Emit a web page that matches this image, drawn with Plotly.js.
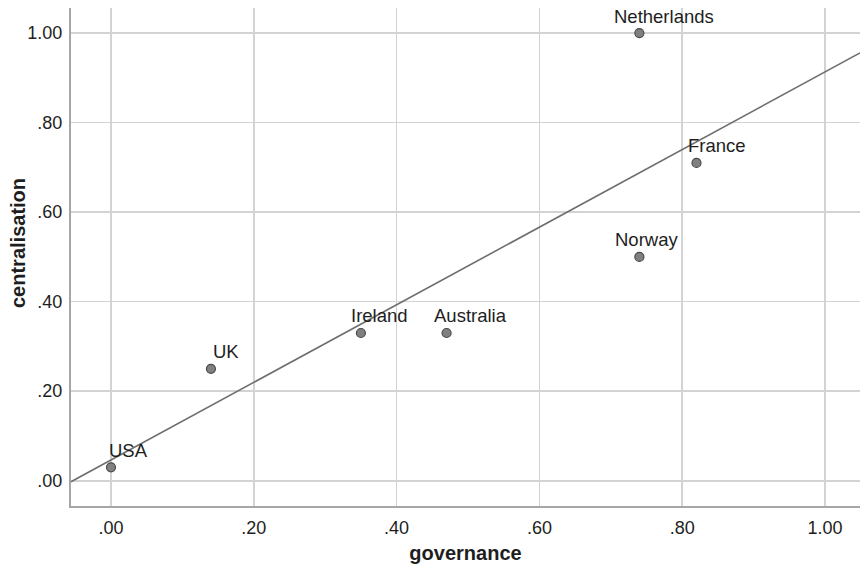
<!DOCTYPE html>
<html>
<head>
<meta charset="utf-8">
<script src="https://cdn.plot.ly/plotly-3.0.1.min.js"></script>
<style>html,body{margin:0;padding:0;background:#fff;}#chart{width:861px;height:564px;}</style>
</head>
<body>
<div id="chart"></div>
<script>
// Data
const countries = ["USA", "UK", "Ireland", "Australia", "Norway", "France", "Netherlands"];
const governance = [0.00, 0.14, 0.35, 0.47, 0.74, 0.82, 0.74];
const centralisation = [0.03, 0.25, 0.33, 0.33, 0.50, 0.71, 1.00];
const tickVals = [0, 0.2, 0.4, 0.6, 0.8, 1.0];
const tickText = [".00", ".20", ".40", ".60", ".80", "1.00"];

// Label horizontal offsets (style)
const labelShift = [18, 15, 19, 24, 7, 21, 25];

// Least-squares fit line
const n = governance.length;
const mx = governance.reduce((a, b) => a + b, 0) / n;
const my = centralisation.reduce((a, b) => a + b, 0) / n;
let sxy = 0, sxx = 0;
for (let i = 0; i < n; i++) {
  sxy += (governance[i] - mx) * (centralisation[i] - my);
  sxx += (governance[i] - mx) * (governance[i] - mx);
}
const slope = sxy / sxx;
const intercept = my - slope * mx;
const xRange = [-0.056, 1.049];
const yRange = [-0.0565, 1.056];

const font = "Liberation Sans, Arial, sans-serif";

const traces = [
  {
    x: xRange,
    y: xRange.map(v => intercept + slope * v),
    mode: "lines",
    line: {color: "#6e6e6e", width: 1.6},
    hoverinfo: "skip",
    showlegend: false
  },
  {
    x: governance,
    y: centralisation,
    mode: "markers",
    marker: {size: 9, color: "#808080", line: {color: "#4a4a4a", width: 1.2}},
    text: countries,
    showlegend: false
  }
];

const annotations = countries.map((c, i) => ({
  x: governance[i], y: centralisation[i], xref: "x", yref: "y",
  text: c, showarrow: false, xanchor: "center", yanchor: "middle",
  xshift: labelShift[i], yshift: 17,
  font: {family: font, size: 18.5, color: "#1e1e1e"}
}));

// y-axis title as a rotated annotation
annotations.push({
  xref: "paper", yref: "paper", x: 0, y: 0.5,
  xanchor: "center", yanchor: "middle", xshift: -53, yshift: 14, textangle: -90,
  text: "<b>centralisation</b>", showarrow: false,
  font: {family: font, size: 20, color: "#1e1e1e"}
});

const layout = {
  width: 861, height: 564,
  margin: {l: 71, r: 1, t: 8, b: 58},
  paper_bgcolor: "#fff", plot_bgcolor: "#fff",
  font: {family: font, size: 18, color: "#1e1e1e"},
  xaxis: {
    range: xRange, tickvals: tickVals, ticktext: tickText,
    showgrid: true, gridcolor: "#d3d3d3", gridwidth: 1.6,
    zeroline: false, showline: true, linecolor: "#a6a6a6", linewidth: 2,
    ticks: "", ticklabelstandoff: 4,
    tickfont: {family: font, size: 18, color: "#1e1e1e"},
    title: {text: "<b>governance</b>", font: {family: font, size: 20, color: "#1e1e1e"}, standoff: 10}
  },
  yaxis: {
    range: yRange, tickvals: tickVals, ticktext: tickText,
    showgrid: true, gridcolor: "#d3d3d3", gridwidth: 1.6,
    zeroline: false, showline: true, linecolor: "#a6a6a6", linewidth: 2,
    ticks: "", ticklabelstandoff: 3,
    tickfont: {family: font, size: 18, color: "#1e1e1e"}
  },
  annotations: annotations
};

Plotly.newPlot("chart", traces, layout, {displayModeBar: false, staticPlot: true});
</script>
</body>
</html>
